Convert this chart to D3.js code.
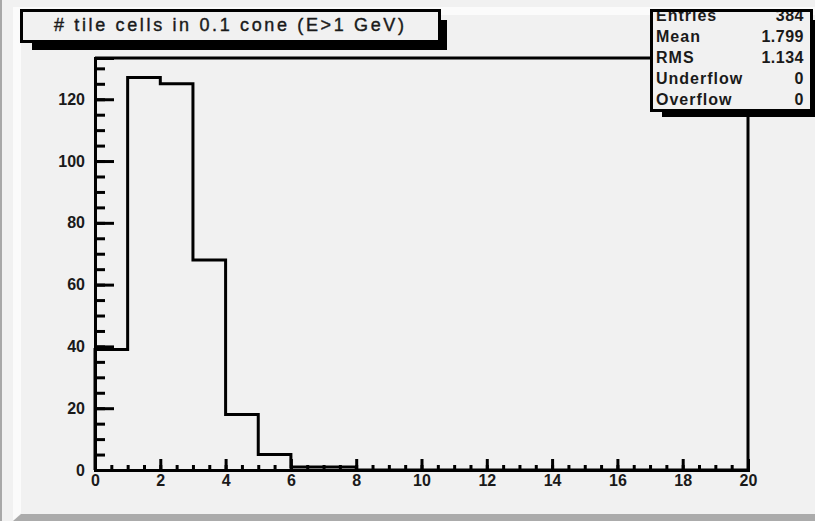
<!DOCTYPE html>
<html>
<head>
<meta charset="utf-8">
<script src="https://cdn.jsdelivr.net/npm/d3@7"></script>
<style>
  body { margin: 0; background: #f1f1f1; }
  svg { display: block; }
  text { font-family: "Liberation Sans", Arial, sans-serif; fill: #1a1a1a; }
</style>
</head>
<body>
<svg id="chart"></svg>
<script>
// histogram: 20 bins of width 1 on [0, 20]
const binEdges = d3.range(0, 21);
const counts = [39, 127, 125, 68, 18, 5, 1, 1, 0, 0, 0, 0, 0, 0, 0, 0, 0, 0, 0, 0];
const xTicks = [0, 2, 4, 6, 8, 10, 12, 14, 16, 18, 20];
const yTicks = [0, 20, 40, 60, 80, 100, 120];
const title = "# tile cells in 0.1 cone (E>1 GeV)";
const statLabels = ["Entries", "Mean", "RMS", "Underflow", "Overflow"];
const statValues = ["384", "1.799", "1.134", "0", "0"];

const W = 815, H = 521;
const svg = d3.select("#chart").attr("width", W).attr("height", H);

// canvas with bevel
svg.append("rect").attr("width", W).attr("height", H).attr("fill", "#f1f1f1");
svg.append("rect").attr("x", 0).attr("y", 0).attr("width", 2).attr("height", H).attr("fill", "#a8a8a8");
svg.append("path").attr("d", "M13,7 L815,7 L815,15 L21,15 L21,513 L13,521 Z").attr("fill", "#fbfbfb");
svg.append("path").attr("d", "M13,521 L21,514 L815,514 L815,521 Z").attr("fill", "#ababab");

const yMax = d3.max(counts) * 1.05;
const x = d3.scaleLinear().domain([0, 20]).range([95, 748]);
const y = d3.scaleLinear().domain([0, yMax]).range([470, 58]);

// frame
svg.append("path")
  .attr("d", `M${x(0)},${y(yMax)} H${x(20)} V${y(0)}`)
  .attr("fill", "none").attr("stroke", "#000").attr("stroke-width", 3);

// histogram outline
let d = `M${x(binEdges[0])},${y(0)}`;
counts.forEach((c, i) => { d += ` V${y(c)} H${x(binEdges[i + 1])}`; });
svg.append("path").attr("d", d).attr("fill", "none").attr("stroke", "#000").attr("stroke-width", 3);

// axes
const xMinor = svg.append("g").attr("transform", `translate(0,${y(0)})`)
  .call(d3.axisBottom(x).tickValues(d3.range(0, 20.01, 0.5)).tickSize(-5).tickFormat(""));
const xAxis = svg.append("g").attr("transform", `translate(0,${y(0)})`)
  .call(d3.axisBottom(x).tickValues(xTicks).tickSize(-11).tickPadding(5).tickFormat(d3.format("d")));
const yMinor = svg.append("g").attr("transform", `translate(${x(0)},0)`)
  .call(d3.axisLeft(y).tickValues(d3.range(0, yMax, 5)).tickSize(-10).tickFormat(""));
const yAxis = svg.append("g").attr("transform", `translate(${x(0)},0)`)
  .call(d3.axisLeft(y).tickValues(yTicks).tickSize(-19).tickPadding(10).tickFormat(d3.format("d")));

[xMinor, xAxis, yMinor, yAxis].forEach(g => {
  g.select(".domain").attr("stroke", "#000").attr("stroke-width", 3);
  g.selectAll(".tick line").attr("stroke", "#000").attr("stroke-width", 3);
});
[xAxis, yAxis].forEach(g => g.selectAll(".tick text")
  .attr("font-size", 16).attr("font-weight", "bold").attr("fill", "#1a1a1a"));

// title box
svg.append("rect").attr("x", 32).attr("y", 20).attr("width", 415).attr("height", 30).attr("fill", "#000");
svg.append("rect").attr("x", 21.5).attr("y", 10.5).attr("width", 418).attr("height", 31)
  .attr("fill", "#f1f1f1").attr("stroke", "#000").attr("stroke-width", 3);
svg.append("text").attr("x", 229).attr("y", 31).attr("text-anchor", "middle")
  .attr("font-size", 18).attr("textLength", 350).attr("lengthAdjust", "spacing")
  .attr("stroke", "#1a1a1a").attr("stroke-width", 0.4)
  .text(title);

// stats box
svg.append("rect").attr("x", 662).attr("y", 20).attr("width", 160).attr("height", 97).attr("fill", "#000");
svg.append("rect").attr("x", 651.5).attr("y", 10.5).attr("width", 160).attr("height", 100)
  .attr("fill", "#f1f1f1").attr("stroke", "#000").attr("stroke-width", 3);
svg.append("clipPath").attr("id", "statsClip").append("rect")
  .attr("x", 653).attr("y", 12).attr("width", 157).attr("height", 97);
const stats = svg.append("g").attr("clip-path", "url(#statsClip)");
const rowY = i => 21 + i * 21;
stats.selectAll("text.lab").data(statLabels).join("text").attr("class", "lab")
  .attr("x", 656).attr("y", (s, i) => rowY(i))
  .attr("font-size", 16).attr("font-weight", "bold").attr("letter-spacing", 1).text(s => s);
stats.selectAll("text.val").data(statValues).join("text").attr("class", "val")
  .attr("x", 804).attr("y", (s, i) => rowY(i)).attr("text-anchor", "end")
  .attr("font-size", 16).attr("font-weight", "bold").attr("letter-spacing", 0.5).text(s => s);
</script>
</body>
</html>
